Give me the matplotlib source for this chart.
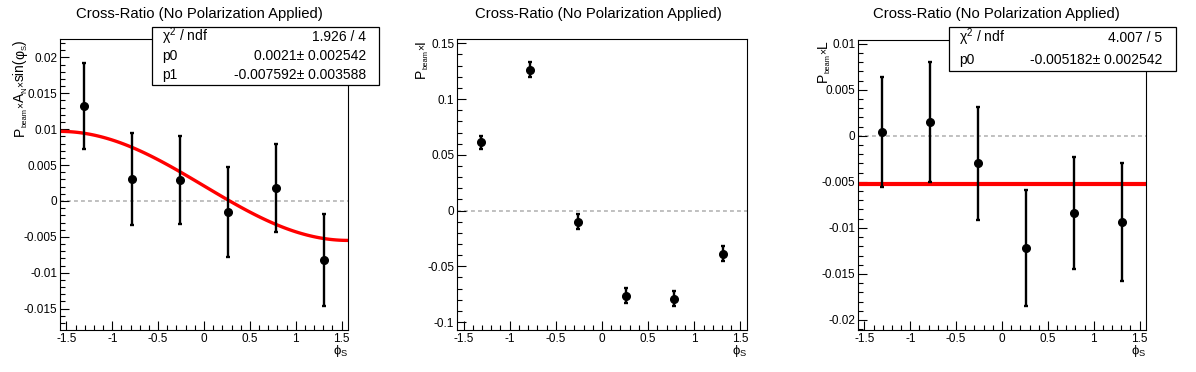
import numpy as np
import matplotlib
matplotlib.use("Agg")
import matplotlib.pyplot as plt
from matplotlib.ticker import MultipleLocator, FormatStrFormatter
from matplotlib.patches import Rectangle

plt.rcParams['font.family'] = ['Liberation Sans', 'DejaVu Sans']
plt.rcParams['mathtext.fontset'] = 'custom'
plt.rcParams['mathtext.rm'] = 'Liberation Sans'
plt.rcParams['mathtext.it'] = 'Liberation Sans:italic'
plt.rcParams['mathtext.bf'] = 'Liberation Sans:bold'
plt.rcParams['axes.unicode_minus'] = False

# phi_S bin centres
phi = [-1.309, -0.785, -0.262, 0.262, 0.785, 1.309]

# P_beam x A_N x sin(phi_S)
an_val = [0.0132, 0.0030, 0.0029, -0.0015, 0.0018, -0.0082]
an_err = [0.0060, 0.0064, 0.0061, 0.0063, 0.0061, 0.0064]
# P_beam x I
i_val = [0.0612, 0.1265, -0.0100, -0.0763, -0.0790, -0.0388]
i_err = [0.0060, 0.0067, 0.0067, 0.0067, 0.0066, 0.0067]
# P_beam x L
l_val = [0.0004, 0.0015, -0.0030, -0.0122, -0.0084, -0.0094]
l_err = [0.0060, 0.0065, 0.0061, 0.0063, 0.0061, 0.0064]

# fit results
an_p0, an_p1 = 0.0021, -0.007592
l_p0 = -0.005182

title = "Cross-Ratio (No Polarization Applied)"
W, H = 1196, 372

fig = plt.figure(figsize=(W / 100, H / 100), dpi=100)
renderer = fig.canvas.get_renderer()

# TLatex-like pieces: (text, size, kind)  kind: 'n' normal, 's' subscript, 'x' times
BIG, SUB, TIMES = 10, 5.4, 7.5
lab_an = [('P', BIG, 'n'), ('beam', SUB, 's'), ('\u00d7', TIMES, 'x'),
          ('A', BIG, 'n'), ('N', SUB, 's'), ('\u00d7', TIMES, 'x'),
          ('sin(', BIG, 'n'), ('\u03c6', BIG, 'n'), ('S', SUB, 's'), (')', BIG, 'n')]
lab_i = [('P', BIG, 'n'), ('beam', SUB, 's'), ('\u00d7', TIMES, 'x'), ('I', BIG, 'n')]
lab_l = [('P', BIG, 'n'), ('beam', SUB, 's'), ('\u00d7', TIMES, 'x'), ('L', BIG, 'n')]


def make_axes(l, t, r, b):
    return fig.add_axes([l / W, (H - b) / H, (r - l) / W, (b - t) / H])


def text_width(s, size):
    t = fig.text(0, 0, s, fontsize=size)
    w = t.get_window_extent(renderer).width
    t.remove()
    return w


def vlabel(pieces, base_x, top_y):
    widths = [text_width(s, fs) for s, fs, _ in pieces]
    y = H - top_y - sum(widths)
    shift = {'n': 0, 's': 2.5, 'x': -0.5}
    for (s, fs, kind), w in zip(pieces, widths):
        fig.text((base_x + shift[kind]) / W, y / H, s, fontsize=fs, rotation=90,
                 rotation_mode='anchor', ha='left', va='baseline')
        y += w


def style(ax, ylim, major, minor):
    ax.set_xlim(-np.pi / 2, np.pi / 2)
    ax.set_ylim(*ylim)
    ax.xaxis.set_major_locator(MultipleLocator(0.5))
    ax.xaxis.set_minor_locator(MultipleLocator(0.1))
    ax.yaxis.set_major_locator(MultipleLocator(major))
    ax.yaxis.set_minor_locator(MultipleLocator(minor))
    ax.xaxis.set_major_formatter(FormatStrFormatter('%g'))
    ax.yaxis.set_major_formatter(FormatStrFormatter('%g'))
    ax.tick_params(which='both', direction='in', top=False, right=False,
                   width=0.8, labelsize=8.5)
    ax.tick_params(which='major', length=6.5, pad=2)
    ax.tick_params(which='minor', length=3.3)
    for s in ax.spines.values():
        s.set_linewidth(0.8)
    ax.axhline(0, color='#c0c0c0', ls=(0, (2, 1.6)), lw=1.4, zorder=1)
    ax.set_xlabel(r'$\mathrm{\phi_{S}}$', loc='right', fontsize=9.5)
    ax.xaxis.set_label_coords(1.0, -0.045)


def points(ax, vals, errs):
    ax.errorbar(phi, vals, yerr=errs, fmt='o', color='black', ms=5.5,
                elinewidth=1.7, capsize=1.6, capthick=1.7, zorder=3)


def stats_box(x0, y0, x1, y1, rows):
    fig.add_artist(Rectangle((x0 / W, 1 - y1 / H), (x1 - x0) / W, (y1 - y0) / H,
                             transform=fig.transFigure, fc='white', ec='black',
                             lw=0.9, zorder=5))
    step = (y1 - y0) / len(rows)
    for k, (name, value) in enumerate(rows):
        yb = 1 - (y0 + step * (k + 0.5) + 4.5) / H
        fig.text((x0 + 10.5) / W, yb, name, ha='left', va='baseline', fontsize=10, zorder=6)
        fig.text((x1 - 13) / W, yb, value, ha='right', va='baseline', fontsize=10, zorder=6)


# panel 1
ax1 = make_axes(60, 39, 348, 330)
style(ax1, (-0.01797, 0.02256), 0.005, 0.001)
points(ax1, an_val, an_err)
xf = np.linspace(-np.pi / 2, np.pi / 2, 100)
ax1.plot(xf, an_p0 + an_p1 * np.sin(xf), color='red', lw=2.4, zorder=2)
vlabel(lab_an, 24, 40)

# panel 2
ax2 = make_axes(457, 39, 747, 330)
style(ax2, (-0.1071, 0.1539), 0.05, 0.01)
points(ax2, i_val, i_err)
vlabel(lab_i, 425, 40)

# panel 3
ax3 = make_axes(858, 39.5, 1146, 330)
style(ax3, (-0.02109, 0.01046), 0.005, 0.001)
points(ax3, l_val, l_err)
ax3.axhline(l_p0, color='red', lw=3, zorder=2)
vlabel(lab_l, 827, 40)

for k in range(3):
    fig.text((k + 0.5) / 3, 1 - 14 / H, title, ha='center', va='center', fontsize=10.7)

stats_box(151.5, 26.5, 379, 84.5,
          [('χ$^{2}$ / ndf', '1.926 / 4'),
           ('p0', '0.0021\u00b1 0.002542'),
           ('p1', '-0.007592\u00b1 0.003588')])
stats_box(948.5, 26.5, 1175.5, 70.5,
          [('χ$^{2}$ / ndf', '4.007 / 5'),
           ('p0', '-0.005182\u00b1 0.002542')])

fig.savefig('out.png', dpi=100)
